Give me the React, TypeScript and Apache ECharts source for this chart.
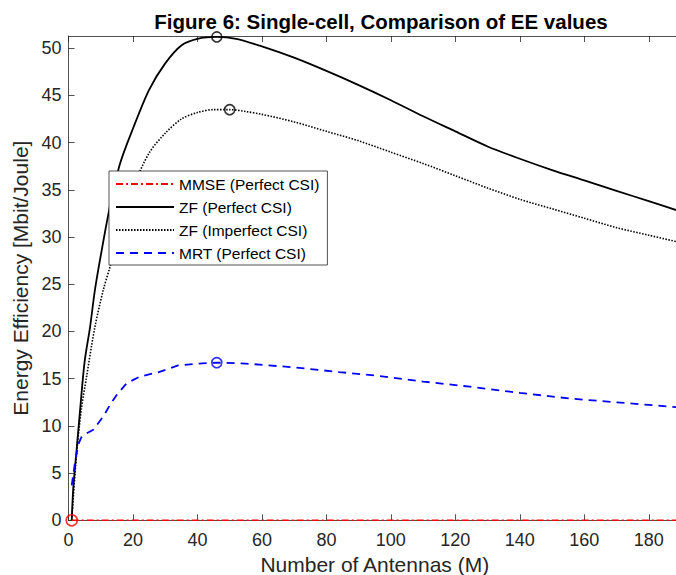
import React, { useEffect, useRef } from "react";
import * as echarts from "echarts";

const titleText = "Figure 6: Single-cell, Comparison of EE values";
const xName = "Number of Antennas (M)";
const yName = "Energy Efficiency [Mbit/Joule]";
const seriesNames = ["MMSE (Perfect CSI)", "ZF (Perfect CSI)", "ZF (Imperfect CSI)", "MRT (Perfect CSI)"];

const mmseM = [1, 190];
const mmseEE = [0, 0];

const zfM = [1, 1.5, 2.5, 3.6, 5, 6.7, 8.2, 10.3, 13, 16, 20, 25, 30, 35, 40, 46, 52, 60, 70, 80, 90, 100, 110, 120, 130, 140, 150, 160, 170, 180, 190];
const zfEE = [0, 3.5, 7.4, 11.7, 16.8, 20.5, 24.4, 28.6, 33.5, 37.8, 41.5, 45.6, 48.4, 50.3, 51.0, 51.2, 51.0, 50.2, 49.0, 47.6, 46.1, 44.5, 42.8, 41.2, 39.6, 38.3, 37.1, 36.0, 34.9, 33.8, 32.7];

const zfiM = [1, 2.5, 4, 5.6, 8.2, 10.8, 13, 16, 20, 25, 30, 35, 40, 45, 50, 55, 60, 70, 80, 90, 100, 110, 120, 130, 140, 150, 160, 170, 180, 190];
const zfiEE = [0, 7, 11.8, 15.2, 20.5, 24.4, 27, 30.8, 35.2, 38.9, 41.0, 42.5, 43.2, 43.5, 43.5, 43.3, 43.0, 42.2, 41.2, 40.2, 39.0, 37.8, 36.5, 35.2, 34.0, 33.0, 32.0, 31.0, 30.2, 29.4];

const mrtM = [1, 2, 3, 4, 5.6, 7.7, 10.8, 13, 15, 18, 22, 28, 34, 40, 46, 55, 70, 84, 96, 110, 124.5, 140, 155.5, 170, 190];
const mrtEE = [3.7, 6.1, 8, 8.8, 9.2, 9.6, 11, 12.3, 13.3, 14.5, 15.2, 15.7, 16.4, 16.6, 16.7, 16.6, 16.2, 15.7, 15.3, 14.7, 14.15, 13.5, 12.9, 12.5, 11.95];

// optimum markers: MMSE, ZF perfect, ZF imperfect, MRT
const peakM = [1, 46, 50, 46];
const peakEE = [0, 51.2, 43.5, 16.7];
const peakColors = ["#ff0000", "#000000", "#000000", "#0000ff"];

const xTicks = [0, 20, 40, 60, 80, 100, 120, 140, 160, 180];
const yTicks = [0, 5, 10, 15, 20, 25, 30, 35, 40, 45, 50];

const FONT = "'Liberation Sans', Arial, Helvetica, sans-serif";
const AX = "#262626";

function zip(a: number[], b: number[]) {
  return a.map((v, i) => [v, b[i]]);
}

export default function App() {
  const ref = useRef<HTMLDivElement>(null);
  useEffect(() => {
    if (!ref.current) return;
    const chart = echarts.init(ref.current, undefined, { renderer: "svg" });
    const xAxisCommon = {
      type: "value",
      min: 0,
      max: 190,
      interval: 20,
      splitLine: { show: false },
      axisLine: { show: true, onZero: false, lineStyle: { color: AX, width: 0.8 } },
      axisTick: { show: true, inside: true, length: 6, customValues: xTicks, lineStyle: { color: AX, width: 0.8 } },
    };
    chart.setOption({
      animation: false,
      backgroundColor: "#ffffff",
      title: {
        text: titleText,
        left: 376,
        top: 6,
        textAlign: "center",
        textStyle: { fontFamily: FONT, fontSize: 20.5, fontWeight: "bold", color: "#000" },
      },
      grid: { left: 68.5, top: 36, right: -5, bottom: 54.7, containLabel: false, outerBoundsMode: "none" },
      legend: {
        data: seriesNames,
        orient: "vertical",
        left: 109,
        top: 171,
        backgroundColor: "#ffffff",
        borderColor: AX,
        borderWidth: 0.8,
        borderRadius: 0,
        padding: [5, 8, 4, 6],
        itemGap: 7,
        itemWidth: 58,
        itemHeight: 14,
        itemStyle: { opacity: 0 },
        textStyle: { fontFamily: FONT, fontSize: 15.5, color: "#000" },
        selectedMode: false,
      },
      xAxis: [
        {
          ...xAxisCommon,
          position: "bottom",
          name: xName,
          nameLocation: "middle",
          nameGap: 32,
          nameTextStyle: { fontFamily: FONT, fontSize: 21, color: AX },
          axisLabel: {
            fontFamily: FONT,
            fontSize: 18,
            color: AX,
            margin: 11,
            customValues: xTicks,
          },
        },
        {
          ...xAxisCommon,
          position: "top",
          axisLabel: { show: false },
        },
      ],
      yAxis: {
        type: "value",
        min: 0,
        max: 51.3,
        interval: 5,
        splitLine: { show: false },
        axisLine: { show: true, onZero: false, lineStyle: { color: AX, width: 0.8 } },
        axisTick: { show: true, inside: true, length: 6, customValues: yTicks, lineStyle: { color: AX, width: 0.8 } },
        axisLabel: {
          fontFamily: FONT,
          fontSize: 18,
          color: AX,
          margin: 7,
          customValues: yTicks,
        },
        name: yName,
        nameLocation: "middle",
        nameGap: 37,
        nameTextStyle: { fontFamily: FONT, fontSize: 21, color: AX },
      },
      series: [
        {
          name: seriesNames[0],
          type: "line",
          data: zip(mmseM, mmseEE),
          symbol: "none",
          z: 5,
          lineStyle: { color: "#ff0000", width: 1.6, type: [7, 3, 2, 3] },
          itemStyle: { color: "#ff0000" },
        },
        {
          name: seriesNames[1],
          type: "line",
          data: zip(zfM, zfEE),
          symbol: "none",
          smooth: 0.3,
          z: 3,
          lineStyle: { color: "#000000", width: 1.8, type: "solid" },
          itemStyle: { color: "#000000" },
        },
        {
          name: seriesNames[2],
          type: "line",
          data: zip(zfiM, zfiEE),
          symbol: "none",
          smooth: 0.3,
          z: 3,
          lineStyle: { color: "#000000", width: 1.6, type: [1.5, 1.5] },
          itemStyle: { color: "#000000" },
        },
        {
          name: seriesNames[3],
          type: "line",
          data: zip(mrtM, mrtEE),
          symbol: "none",
          z: 4,
          lineStyle: { color: "#0000ff", width: 1.8, type: [8, 6] },
          itemStyle: { color: "#0000ff" },
        },
        ...peakM.map((m, i) => ({
          name: "opt" + i,
          type: "scatter",
          data: [[m, peakEE[i]]],
          symbol: "circle",
          symbolSize: i === 0 ? 11 : 10,
          z: 6,
          itemStyle: { color: "rgba(0,0,0,0)", borderColor: peakColors[i], borderWidth: 1.6 },
        })),
      ],
    });
    return () => chart.dispose();
  }, []);
  return (
    <div
      ref={ref}
      style={{ position: "fixed", left: 0, top: 0, width: 676, height: 575, background: "#fff" }}
    />
  );
}
